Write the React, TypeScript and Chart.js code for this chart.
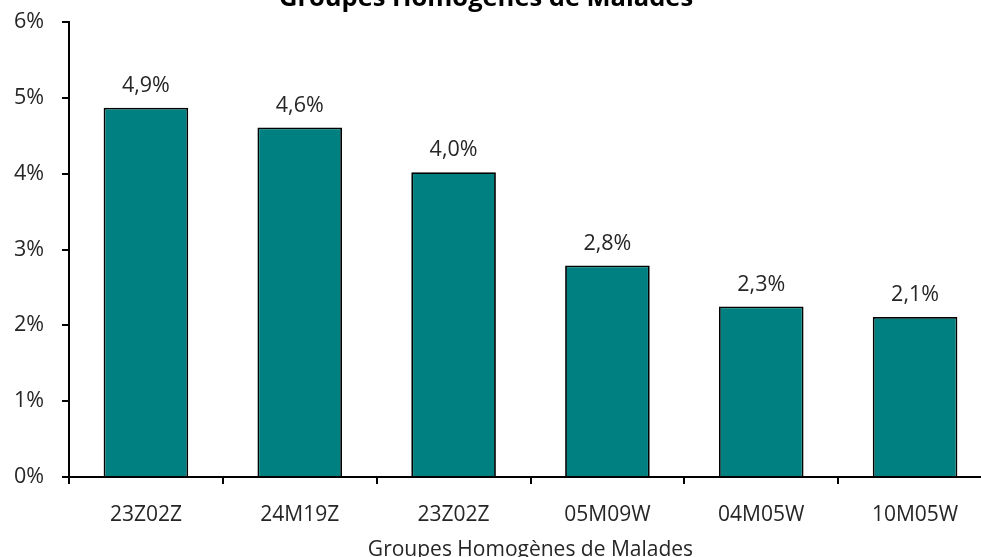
import React, { useEffect, useRef } from "react";
import { Chart, registerables } from "chart.js";

Chart.register(...registerables);

const categories = ["23Z02Z", "24M19Z", "23Z02Z", "05M09W", "04M05W", "10M05W"];
const values = [4.87, 4.61, 4.02, 2.79, 2.25, 2.11];
const valueLabels = ["4,9%", "4,6%", "4,0%", "2,8%", "2,3%", "2,1%"];
const yTicks = [0, 1, 2, 3, 4, 5, 6];
const chartTitle = "Groupes Homogènes de Malades";
const xTitle = "Groupes Homogènes de Malades";

const FONT = "'Open Sans', 'Noto Sans', sans-serif";
const TEXT = "#262626";

const valueLabelPlugin = {
  id: "valueLabels",
  afterDatasetsDraw(chart: any) {
    const ctx = chart.ctx;
    const meta = chart.getDatasetMeta(0);
    ctx.save();
    ctx.font = `21.5px ${FONT}`;
    ctx.fillStyle = TEXT;
    ctx.textAlign = "center";
    ctx.textBaseline = "middle";
    meta.data.forEach((bar: any, i: number) => {
      ctx.fillText(valueLabels[i], bar.x, bar.y - 22);
    });
    ctx.restore();
  },
};

export default function App() {
  const ref = useRef<HTMLCanvasElement>(null);
  useEffect(() => {
    if (!ref.current) return;
    const chart = new Chart(ref.current, {
      type: "bar",
      data: {
        labels: categories,
        datasets: [
          {
            data: values,
            backgroundColor: "#008080",
            borderColor: "#000000",
            borderWidth: 1.8,
            borderSkipped: "bottom",
            barPercentage: 0.55,
            categoryPercentage: 1,
          },
        ],
      },
      options: {
        animation: false,
        responsive: false,
        layout: { padding: { top: 0, right: 8, bottom: 0, left: 0 } },
        plugins: {
          legend: { display: false },
          tooltip: { enabled: false },
          title: {
            display: true,
            text: chartTitle,
            color: "#000",
            font: { family: FONT, size: 25.5, weight: "bold", lineHeight: 1.2 },
            padding: { top: 3, bottom: 8.5 },
          },
        },
        scales: {
          x: {
            grid: {
              display: true,
              drawOnChartArea: false,
              drawTicks: true,
              tickLength: 7,
              color: "#000",
              lineWidth: 2,
              offset: true,
            },
            border: { display: true, color: "#000", width: 2 },
            ticks: {
              color: TEXT,
              font: { family: FONT, size: 21, lineHeight: 1 },
              padding: 21,
              maxRotation: 0,
              autoSkip: false,
            },
            title: {
              display: true,
              text: xTitle,
              color: TEXT,
              font: { family: FONT, size: 21, lineHeight: 1 },
              padding: { top: -7, bottom: 0 },
            },
          },
          y: {
            min: 0,
            max: 6,
            afterFit(scale: any) {
              scale.width = 89;
            },
            afterBuildTicks(scale: any) {
              scale.ticks = yTicks.map((v) => ({ value: v }));
            },
            grid: {
              display: true,
              drawOnChartArea: false,
              drawTicks: true,
              tickLength: 7,
              color: "#000",
              lineWidth: 2,
            },
            border: { display: true, color: "#000", width: 2 },
            ticks: {
              color: TEXT,
              font: { family: FONT, size: 21.5 },
              padding: 18,
              callback: (v: any) => `${v}%`,
            },
          },
        },
      },
      plugins: [valueLabelPlugin],
    });
    return () => chart.destroy();
  }, []);
  return (
    <div style={{ position: "fixed", left: -20, top: -20, width: 1020, height: 581 }}>
      <canvas ref={ref} width={1020} height={581} style={{ width: 1020, height: 581 }} />
    </div>
  );
}
